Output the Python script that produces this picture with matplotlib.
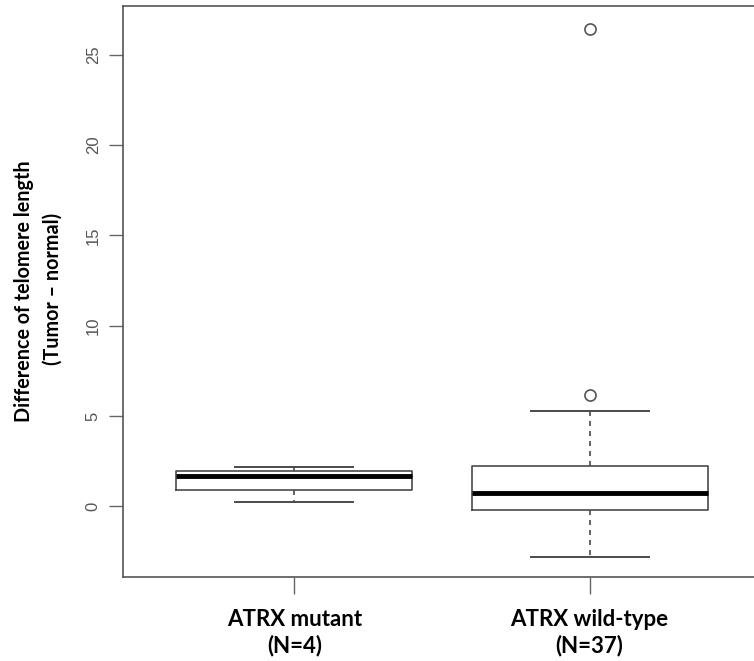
import matplotlib
matplotlib.use("Agg")
import matplotlib.pyplot as plt

# ---- data ----
groups = ["ATRX mutant\n(N=4)", "ATRX wild-type\n(N=37)"]
whisker_low = [0.23, -2.80]
q1 = [0.91, -0.21]
median = [1.65, 0.75]
q3 = [1.93, 2.24]
whisker_high = [2.15, 5.25]
outliers = [[], [6.15, 26.45]]
yticks = [0, 5, 10, 15, 20, 25]
ylabel_lines = ["Difference of telomere length", "(Tumor – normal)"]

W, H = 754, 661
fig = plt.figure(figsize=(W / 100, H / 100), dpi=100)
left, right, top, bottom = 123, 761, 6, 577
ax = fig.add_axes([left / W, 1 - bottom / H, (right - left) / W, (bottom - top) / H])

stats = []
for i in range(len(groups)):
    stats.append(dict(whislo=whisker_low[i], q1=q1[i], med=median[i], q3=q3[i],
                      whishi=whisker_high[i], fliers=outliers[i], label=groups[i]))

lc = "#4a4a4a"
ax.bxp(stats, positions=[1, 2], widths=0.8,
       boxprops=dict(color=lc, linewidth=1.2),
       medianprops=dict(color="black", linewidth=3.5, solid_capstyle="butt"),
       whiskerprops=dict(color=lc, linewidth=1.2, linestyle=(0, (3, 3))),
       capprops=dict(color=lc, linewidth=1.4),
       capwidths=0.4,
       flierprops=dict(marker="o", markerfacecolor="none", markeredgecolor="#555555",
                       markersize=8, markeredgewidth=1.2))

ax.set_xlim(0.42, 2.58)
ax.set_ylim(-3.92, 27.71)

for s in ax.spines.values():
    s.set_color("#555555")
    s.set_linewidth(1.2)

ax.set_yticks(yticks)
ax.set_yticklabels([str(t) for t in yticks], rotation=90, va="center",
                   family="Liberation Sans", fontsize=12, color="#555555")
ax.tick_params(axis="y", length=10, width=1, color="#666666", pad=6)
ax.set_xticks([1, 2])
ax.set_xticklabels(groups, family="Lato", fontweight="bold", fontsize=16,
                   color="black", linespacing=1.25)
ax.tick_params(axis="x", length=12, width=1, color="#666666", pad=11)

fig.text(24 / W, 1 - 291 / H, ylabel_lines[0], rotation=90, ha="center", va="center",
         family="Lato", fontweight="bold", fontsize=14.2)
fig.text(53 / W, 1 - 289 / H, ylabel_lines[1], rotation=90, ha="center", va="center",
         family="Lato", fontweight="bold", fontsize=14.2)

fig.savefig("out.png", dpi=100)
